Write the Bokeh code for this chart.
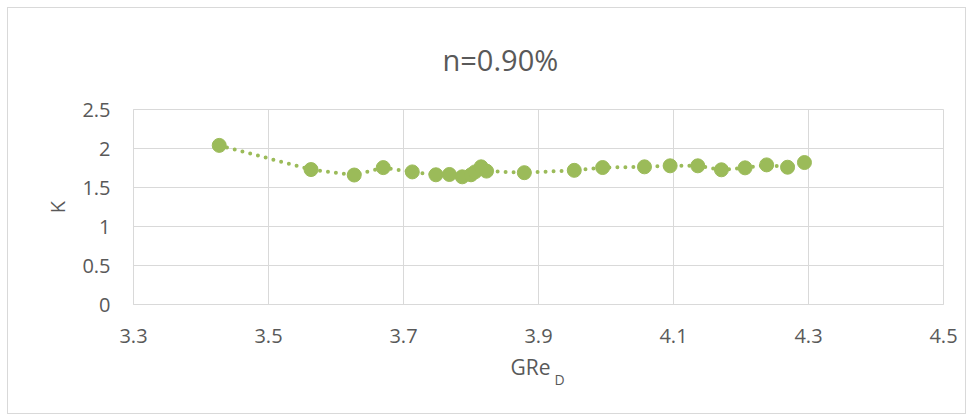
from bokeh.plotting import figure
from bokeh.models import FixedTicker, Title, ColumnDataSource
from bokeh.embed import file_html
from bokeh.resources import INLINE

# data
gre_d = [3.427, 3.563, 3.627, 3.670, 3.713, 3.748, 3.768, 3.787, 3.800, 3.806,
         3.815, 3.823, 3.879, 3.953, 3.995, 4.057, 4.095, 4.136, 4.171, 4.206,
         4.238, 4.269, 4.294]
k_vals = [2.04, 1.73, 1.66, 1.755, 1.70, 1.663, 1.667, 1.637, 1.663, 1.70,
          1.765, 1.71, 1.69, 1.72, 1.756, 1.765, 1.778, 1.778, 1.727, 1.752,
          1.79, 1.76, 1.82]
x_ticks = [3.3, 3.5, 3.7, 3.9, 4.1, 4.3, 4.5]
x_tick_labels = ["3.3", "3.5", "3.7", "3.9", "4.1", "4.3", "4.5"]
y_ticks = [0, 0.5, 1, 1.5, 2, 2.5]
y_tick_labels = ["0", "0.5", "1", "1.5", "2", "2.5"]
title_text = "n=0.90%"
x_title = "GRe"
x_title_sub = "D"
y_title = "K"

GREEN = "#9BBB59"
TXT = "#595959"
GRID = "#d9d9d9"
FONT = "Open Sans"

p = figure(width=959, height=407, output_backend="svg", toolbar_location=None,
           x_range=(3.3, 4.5), y_range=(0, 2.5),
           min_border_left=125, min_border_right=24,
           min_border_top=101, min_border_bottom=111)
p.margin = (7, 0, 0, 7)
p.styles = {"border": "1px solid #d9d9d9"}
p.outline_line_color = GRID

src = ColumnDataSource(dict(x=gre_d, y=k_vals))
p.line("x", "y", source=src, line_color=GREEN, line_width=4,
       line_dash="0 8", line_cap="round")
p.scatter("x", "y", source=src, size=14, fill_color=GREEN, line_color=GREEN)

for ax in (p.xaxis[0], p.yaxis[0]):
    ax.major_tick_line_color = None
    ax.minor_tick_line_color = None
    ax.axis_line_color = GRID
    ax.major_label_text_font = FONT
    ax.major_label_text_font_size = "20px"
    ax.major_label_text_color = TXT
    ax.axis_label_text_font = FONT
    ax.axis_label_text_font_size = "20px"
    ax.axis_label_text_font_style = "normal"
    ax.axis_label_text_color = TXT

p.xaxis.ticker = FixedTicker(ticks=x_ticks)
p.xaxis.major_label_overrides = dict(zip(x_ticks, x_tick_labels))
p.xaxis.major_label_standoff = 18

p.yaxis.ticker = FixedTicker(ticks=y_ticks)
p.yaxis.major_label_overrides = dict(zip(y_ticks, y_tick_labels))
p.yaxis.major_label_standoff = 17
p.yaxis.axis_label = y_title
p.yaxis.axis_label_standoff = 8

p.grid.grid_line_color = GRID
p.grid.grid_line_width = 1

# chart title
p.title.text = title_text
p.title.align = "left"
p.title.vertical_align = "top"
p.title.offset = 309
p.title.standoff = 58
p.title.text_font = FONT
p.title.text_font_size = "29px"
p.title.text_font_style = "normal"
p.title.text_color = TXT

# x-axis title with its subscript
p.add_layout(Title(text=x_title, align="left", offset=377, standoff=10,
                   text_font=FONT, text_font_size="21px",
                   text_font_style="normal", text_color=TXT), "below")
p.add_layout(Title(text=x_title_sub, align="left", vertical_align="top",
                   offset=421, standoff=-32,
                   text_font=FONT, text_font_size="14px",
                   text_font_style="normal", text_color=TXT), "below")

open("out.html", "w").write(file_html(p, INLINE))
